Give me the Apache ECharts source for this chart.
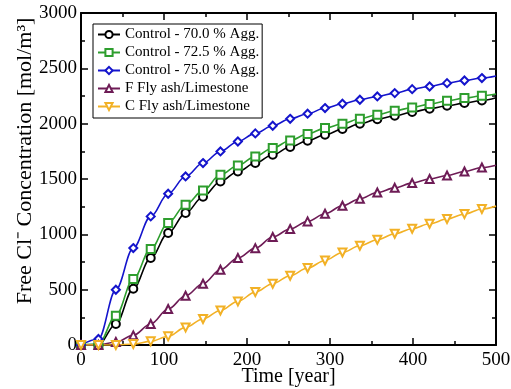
<!DOCTYPE html>
<html>
<head>
<meta charset="utf-8">
<script src="https://cdn.jsdelivr.net/npm/echarts@6/dist/echarts.min.js"></script>
<style>
  html, body { margin: 0; padding: 0; background: #fff; }
  #chart { width: 511px; height: 389px; }
</style>
</head>
<body>
<div id="chart"></div>
<script>
// time points where the markers sit (last one, 500, is the curve end without marker)
const years = [0, 21, 42, 63, 84, 105, 126, 147, 168, 189, 210, 231, 252, 273, 294, 315, 336, 357, 378, 399, 420, 441, 462, 483, 500];

const control70 = [0, 0, 190, 509, 786, 1012, 1192, 1340, 1478, 1568, 1644, 1719, 1789, 1846, 1900, 1951, 1999, 2041, 2071, 2105, 2135, 2162, 2186, 2210, 2235];
const control725 = [0, 8, 265, 596, 867, 1102, 1267, 1395, 1538, 1622, 1704, 1780, 1848, 1906, 1960, 1999, 2044, 2080, 2117, 2146, 2177, 2207, 2231, 2252, 2268];
const control75 = [0, 54, 499, 876, 1162, 1367, 1523, 1644, 1749, 1839, 1912, 1981, 2044, 2090, 2141, 2180, 2216, 2246, 2276, 2312, 2336, 2366, 2390, 2412, 2430];
const fFlyAsh = [0, 0, 27, 87, 190, 325, 445, 554, 680, 786, 875, 976, 1048, 1117, 1186, 1258, 1322, 1378, 1420, 1463, 1500, 1532, 1568, 1604, 1625];
const cFlyAsh = [0, 0, 0, 9, 33, 78, 159, 235, 312, 394, 478, 554, 626, 696, 764, 836, 897, 951, 1005, 1051, 1096, 1138, 1183, 1229, 1255];

const seriesNames = [
  "Control - 70.0 % Agg.",
  "Control - 72.5 % Agg.",
  "Control - 75.0 % Agg.",
  "F Fly ash/Limestone",
  "C Fly ash/Limestone",
];
const xTicks = [0, 100, 200, 300, 400, 500];
const yTicks = [0, 500, 1000, 1500, 2000, 2500, 3000];

const FONT = "Liberation Serif";

function pairs(ys) {
  return years.map((x, i) => {
    const p = { value: [x, ys[i]] };
    if (x === 500) p.symbol = "none";
    return p;
  });
}

function makeSeries(name, ys, color, symbol, rotate) {
  return {
    name: name,
    type: "line",
    data: pairs(ys),
    smooth: 0.35,
    smoothMonotone: "x",
    symbol: symbol,
    symbolSize: 8,
    symbolRotate: rotate || 0,
    showAllSymbol: true,
    color: color,
    lineStyle: { color: color, width: 1.6 },
    itemStyle: { color: color, borderWidth: 1.2 },
    emphasis: { disabled: true },
  };
}

const chart = echarts.init(document.getElementById("chart"), null, { renderer: "canvas" });

const baseX = {
  type: "value",
  min: xTicks[0],
  max: xTicks[xTicks.length - 1],
  interval: 100,
  axisLine: { show: true, onZero: false, lineStyle: { color: "#000", width: 2 } },
  axisTick: { show: true, inside: true, length: 7, lineStyle: { color: "#000", width: 1.5 } },
  minorTick: { show: true, splitNumber: 2, length: 4, lineStyle: { color: "#000", width: 1.5 } },
  splitLine: { show: false },
};
const baseY = {
  type: "value",
  min: yTicks[0],
  max: yTicks[yTicks.length - 1],
  interval: 500,
  axisLine: { show: true, onZero: false, lineStyle: { color: "#000", width: 2 } },
  axisTick: { show: true, inside: true, length: 7, lineStyle: { color: "#000", width: 1.5 } },
  minorTick: { show: true, splitNumber: 2, length: 4, lineStyle: { color: "#000", width: 1.5 } },
  splitLine: { show: false },
};

const option = {
  animation: false,
  backgroundColor: "#fff",
  textStyle: { fontFamily: FONT },
  grid: { left: 81, right: 15, top: 13, bottom: 44, containLabel: false, outerBoundsMode: "none" },
  legend: {
    data: seriesNames,
    orient: "vertical",
    left: 93,
    top: 24,
    padding: [3, 3, 4, 4],
    itemGap: 3,
    itemWidth: 22,
    itemHeight: 9,
    borderColor: "#000",
    borderWidth: 1,
    backgroundColor: "#fff",
    textStyle: { fontFamily: FONT, fontSize: 15, color: "#000", lineHeight: 15 },
  },
  xAxis: [
    Object.assign({}, baseX, {
      position: "bottom",
      name: "Time [year]",
      nameLocation: "middle",
      nameGap: 22,
      nameMoveOverlap: false,
      nameTextStyle: { fontFamily: FONT, fontSize: 20, color: "#000" },
      axisLabel: { show: true, fontFamily: FONT, fontSize: 19, color: "#000", margin: 6, formatter: (v) => String(v) },
    }),
    Object.assign({}, baseX, { position: "top", axisLabel: { show: false } }),
  ],
  yAxis: [
    Object.assign({}, baseY, {
      position: "left",
      name: "Free Cl\u207B Concentration [mol/m\u00B3]",
      nameLocation: "middle",
      nameGap: 45,
      nameMoveOverlap: false,
      nameTextStyle: { fontFamily: FONT, fontSize: 22, color: "#000", padding: [0, 0, 0, 36] },
      axisLabel: { show: true, fontFamily: FONT, fontSize: 19, color: "#000", margin: 4, formatter: (v) => String(v) },
    }),
    Object.assign({}, baseY, { position: "right", axisLabel: { show: false } }),
  ],
  series: [
    makeSeries(seriesNames[0], control70, "#000000", "emptyCircle"),
    makeSeries(seriesNames[1], control725, "#2e9e2e", "emptyRect"),
    makeSeries(seriesNames[2], control75, "#1414cc", "emptyDiamond"),
    makeSeries(seriesNames[3], fFlyAsh, "#6e1c56", "emptyTriangle"),
    makeSeries(seriesNames[4], cFlyAsh, "#f2b126", "emptyTriangle", 180),
  ],
};

chart.setOption(option);
</script>
</body>
</html>
